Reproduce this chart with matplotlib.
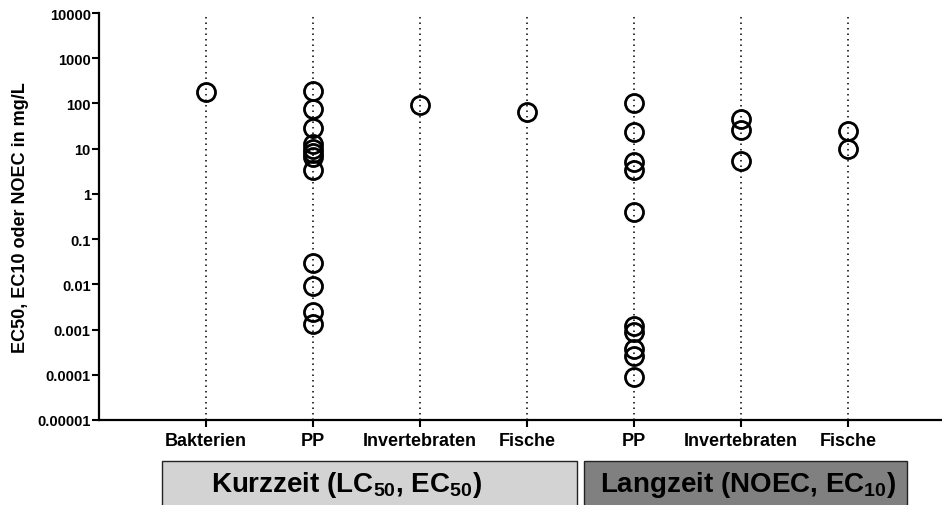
import matplotlib
matplotlib.use("Agg")
import matplotlib.pyplot as plt
from matplotlib.patches import Rectangle
import matplotlib.transforms as mtransforms

plt.rcParams['font.family'] = ['Liberation Sans', 'DejaVu Sans']
plt.rcParams['mathtext.fontset'] = 'custom'
plt.rcParams['mathtext.rm'] = 'Liberation Sans:bold'
plt.rcParams['mathtext.it'] = 'Liberation Sans:bold'
plt.rcParams['mathtext.bf'] = 'Liberation Sans:bold'

# categories (x order) and readings in mg/L
categories = ["Bakterien", "PP", "Invertebraten", "Fische",
              "PP", "Invertebraten", "Fische"]

bakterien_kurz = [180]
pp_kurz = [190, 75, 28, 13, 10, 8.2, 6.5, 3.4, 0.029, 0.0093, 0.0024, 0.0013]
invert_kurz = [92]
fische_kurz = [65]
pp_lang = [100, 23, 5.0, 3.4, 0.40, 0.0012, 0.0009, 0.00037, 0.00026, 0.00009]
invert_lang = [46, 26, 5.3]
fische_lang = [24, 10]

groups = [bakterien_kurz, pp_kurz, invert_kurz, fische_kurz,
          pp_lang, invert_lang, fische_lang]

yticks = [1e-5, 1e-4, 1e-3, 1e-2, 1e-1, 1, 10, 100, 1000, 10000]
ytick_labels = ["0.00001", "0.0001", "0.001", "0.01", "0.1", "1", "10",
                "100", "1000", "10000"]

fig = plt.figure(figsize=(9.42, 5.06), dpi=100)
ax = fig.add_axes([99 / 942, 85 / 506, 843 / 942, 407 / 506])

xpos = list(range(1, len(categories) + 1))
for x, vals in zip(xpos, groups):
    ax.plot([x, x], [1e-5, 1e4], linestyle=(0, (1, 2.6)), color='black',
            lw=1.1, zorder=1)
    ax.plot([x] * len(vals), vals, linestyle='none', marker='o',
            markersize=13, markerfacecolor='none', markeredgecolor='black',
            markeredgewidth=2.0, zorder=3, clip_on=False)

ax.set_yscale('log')
ax.set_ylim(1e-5, 1e4)
ax.set_xlim(0, 7.88)
ax.set_yticks(yticks)
ax.set_yticklabels(ytick_labels)
ax.minorticks_off()
ax.set_xticks(xpos)
ax.set_xticklabels(categories)
for lab in ax.get_yticklabels():
    lab.set_fontweight('bold')
    lab.set_fontsize(10.5)
for lab in ax.get_xticklabels():
    lab.set_fontweight('bold')
    lab.set_fontsize(13)

ax.tick_params(axis='both', direction='out', length=5, width=1.5, color='black')
ax.tick_params(axis='x', pad=4)
ax.tick_params(axis='y', pad=1)
ax.spines['top'].set_visible(False)
ax.spines['right'].set_visible(False)
ax.spines['left'].set_linewidth(1.6)
ax.spines['bottom'].set_linewidth(1.6)

ax.set_ylabel("EC50, EC10 oder NOEC in mg/L", fontsize=13, fontweight='bold',
              labelpad=6)

# group boxes under the axis
trans = mtransforms.blended_transform_factory(ax.transData, ax.transAxes)
boxes = [
    (0.593, 4.467, 2.31, '#d3d3d3', r'Kurzzeit (LC$_{50}$, EC$_{50}$)'),
    (4.533, 7.551, 6.065, '#808080', r'Langzeit (NOEC, EC$_{10}$)'),
]
for x0, x1, xt, col, label in boxes:
    rect = Rectangle((x0, -0.40), x1 - x0, 0.30, transform=trans,
                     facecolor=col, edgecolor='#222222', lw=1.0, clip_on=False)
    ax.add_patch(rect)
    ax.text(xt, -0.158, label, transform=trans, ha='center',
            va='center', fontsize=20, fontweight='bold')

fig.savefig("out.png", dpi=100)
